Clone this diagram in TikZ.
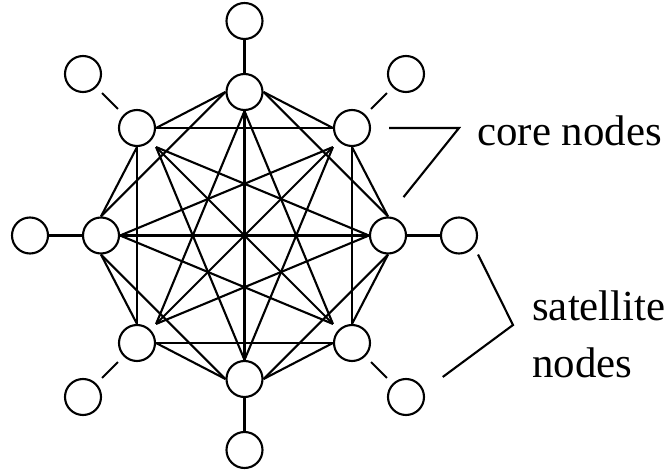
\documentclass[tikz,border=0pt]{standalone}
\usepackage{fontspec}
\setmainfont{Liberation Serif}

\begin{document}
\begin{tikzpicture}[
  x=0.025cm, y=-0.025cm,
  core/.style={draw, rectangle, rounded corners=0.45cm, minimum size=0.9cm,
    inner sep=0pt, line width=1.5pt},
  sat/.style={core},
  link/.style={line width=1.5pt},
  pointer/.style={line width=1.5pt},
  lbl/.style={font=\fontsize{30.5}{38.4}\selectfont, inner sep=0pt, align=left},
]

% Frame
\useasboundingbox (0,0) rectangle (665,472);

% =============================================
% Core nodes (clockwise from top)
% =============================================
\node[core] (c1) at (244.5,92) {};
\node[core] (c2) at (352,128) {};
\node[core] (c3) at (388,235.5) {};
\node[core] (c4) at (352,343) {};
\node[core] (c5) at (244.5,379) {};
\node[core] (c6) at (137,343) {};
\node[core] (c7) at (101,235.5) {};
\node[core] (c8) at (137,128) {};

% =============================================
% Satellite nodes
% =============================================
\node[sat] (s1) at (244.5,21) {};
\node[sat] (s2) at (406,74) {};
\node[sat] (s3) at (459,235.5) {};
\node[sat] (s4) at (406,397) {};
\node[sat] (s5) at (244.5,450) {};
\node[sat] (s6) at (83,397) {};
\node[sat] (s7) at (30,235.5) {};
\node[sat] (s8) at (83,74) {};

% =============================================
% Core mesh
% =============================================
% from the top node
\draw[link] (c1.west) -- (c8.east);
\draw[link] (c1.west) -- (c7.north);
\draw[link] (c1.south) -- (c5.north);
\draw[link] (c1.south) -- (c6.north east);
\draw[link] (c1.south) -- (c4.north west);
\draw[link] (c1.east) -- (c2.west);
\draw[link] (c1.east) -- (c3.north);

% upper left / upper right
\draw[link] (c8.east) -- (c2.west);
\draw[link] (c8.south) -- (c7.north);
\draw[link] (c8.south) -- (c6.north);
\draw[link] (c8.south east) -- (c3.west);
\draw[link] (c8.south east) -- (c4.north west);
\draw[link] (c8.south east) -- (c5.north);
\draw[link] (c2.south) -- (c3.north);
\draw[link] (c2.south) -- (c4.north);
\draw[link] (c2.south west) -- (c7.east);
\draw[link] (c2.south west) -- (c6.north east);
\draw[link] (c2.south west) -- (c5.north);

% left / right
\draw[link] (c7.east) -- (c3.west);
\draw[link] (c7.east) -- (c4.north west);
\draw[link] (c7.south) -- (c6.north);
\draw[link] (c7.south) -- (c5.west);
\draw[link] (c3.west) -- (c6.north east);
\draw[link] (c3.south) -- (c4.north);
\draw[link] (c3.south) -- (c5.east);

% lower row
\draw[link] (c6.east) -- (c5.west);
\draw[link] (c6.east) -- (c4.west);
\draw[link] (c4.west) -- (c5.east);

% =============================================
% Satellite links
% =============================================
\draw[link] (s1.south) -- (c1.north);
\draw[link] (s2.south west) -- (c2.north east);
\draw[link] (s3.west) -- (c3.east);
\draw[link] (s4.north west) -- (c4.south east);
\draw[link] (s5.north) -- (c5.south);
\draw[link] (s6.north east) -- (c6.south west);
\draw[link] (s7.east) -- (c7.west);
\draw[link] (s8.south east) -- (c8.north west);

% =============================================
% Labels
% =============================================
\node[lbl, anchor=base west] (corelbl) at (477,146) {core nodes};
\node[lbl, anchor=base west] (satlbl) at (532,377) {satellite\\[2pt]nodes};

\coordinate (corebend) at (459,128);
\coordinate (satbend) at (513,325);

\draw[pointer, shorten <=0.45cm, shorten >=0.62cm]
  (c2.east) -- (corebend) -- (c3.north);
\draw[pointer, shorten >=0.55cm]
  (s3.south east) -- (satbend) -- (s4.20);

\end{tikzpicture}
\end{document}
